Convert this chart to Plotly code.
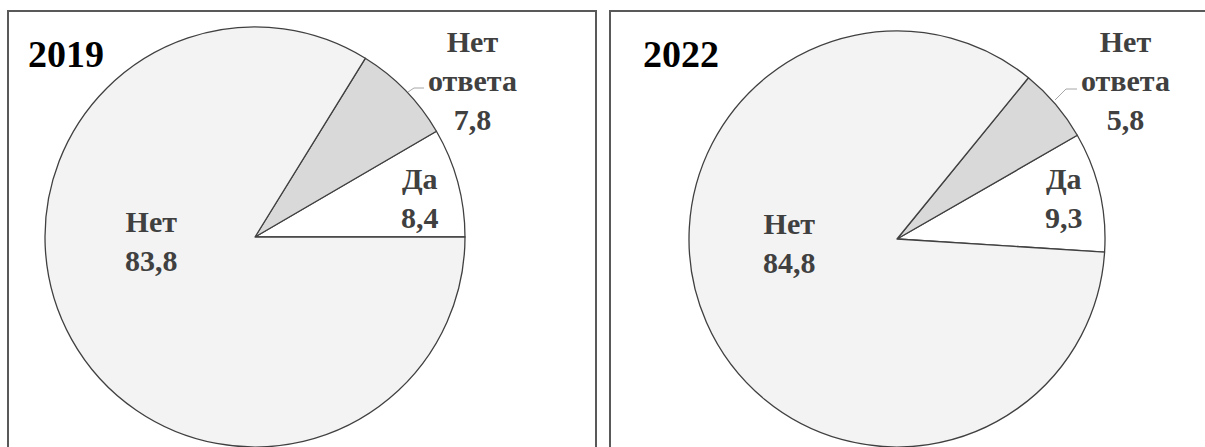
import plotly.graph_objects as go

# ---- data ----
categories = ["Да", "Нет ответа", "Нет"]
years = ["2019", "2022"]
values_2019 = [8.4, 7.8, 83.8]
values_2022 = [9.3, 5.8, 84.8]
# angle (plotly convention: degrees clockwise from 12 o'clock) where the first slice begins
start_angle_2019 = 90.0
start_angle_2022 = 93.6

W, H = 1205, 447
slice_colors = ["#ffffff", "#d9d9d9", "#f3f3f3"]
text_color = "#404040"
font_family = "Liberation Serif, Times New Roman, serif"


def px_x(x):
    return x / W


def px_y(y):
    return 1 - y / H


def fmt(v):
    return f"{v:.1f}".replace(".", ",")


fig = go.Figure()

panels = [
    dict(year=years[0], values=values_2019, start=start_angle_2019,
         dom_x=(45, 465), dom_h=420, title_x=26,
         lab=[(420, 198), (472, 80), (151, 241)],
         leader=[(408, 92), (414, 88), (424, 88)]),
    dict(year=years[1], values=values_2022, start=start_angle_2022,
         dom_x=(689, 1105), dom_h=416, title_x=641,
         lab=[(1064, 198), (1125, 80), (789, 243)],
         leader=[(1055, 100), (1066, 89), (1077, 89)]),
]

for p in panels:
    vals = p["values"]
    # plotly's counterclockwise mode places the first slice clockwise of `rotation`
    rot = p["start"] - 360.0 * vals[0] / sum(vals)
    fig.add_trace(go.Pie(
        labels=categories,
        values=vals,
        sort=False,
        direction="counterclockwise",
        rotation=rot,
        marker=dict(colors=slice_colors, line=dict(color="#404040", width=1.3)),
        textinfo="none",
        hoverinfo="label+value",
        showlegend=False,
        domain=dict(x=[px_x(p["dom_x"][0]), px_x(p["dom_x"][1])],
                    y=[0, p["dom_h"] / H]),
    ))
    # year title
    fig.add_annotation(
        x=px_x(p["title_x"]), y=px_y(54), xref="paper", yref="paper",
        xanchor="left", yanchor="middle", showarrow=False,
        text=f"<b>{p['year']}</b>",
        font=dict(family=font_family, size=38, color="#000000"),
    )
    # slice labels
    for cat, val, (lx, ly) in zip(categories, vals, p["lab"]):
        fig.add_annotation(
            x=px_x(lx), y=px_y(ly), xref="paper", yref="paper",
            xanchor="center", yanchor="middle", showarrow=False,
            text="<b>" + cat.replace(" ", "<br>") + "<br>" + fmt(val) + "</b>",
            font=dict(family=font_family, size=30, color=text_color),
        )
    # leader line for the outside label
    pts = p["leader"]
    path = "M " + " L ".join(f"{px_x(x)},{px_y(y)}" for x, y in pts)
    fig.add_shape(type="path", path=path, xref="paper", yref="paper",
                  line=dict(color="#a6a6a6", width=1))

# panel frames
fig.add_shape(type="rect", xref="paper", yref="paper",
              x0=px_x(8), x1=px_x(596), y0=-0.1, y1=px_y(11),
              line=dict(color="#595959", width=2))
fig.add_shape(type="rect", xref="paper", yref="paper",
              x0=px_x(610), x1=1.1, y0=-0.1, y1=px_y(11),
              line=dict(color="#595959", width=2))

fig.update_layout(
    width=W, height=H,
    margin=dict(l=0, r=0, t=0, b=0),
    paper_bgcolor="#ffffff",
    plot_bgcolor="#ffffff",
    font=dict(family=font_family),
)

fig.write_html(
    "out.html",
    config={"displayModeBar": False},
    post_script="document.body.style.margin='0';document.body.style.overflow='hidden';",
)
